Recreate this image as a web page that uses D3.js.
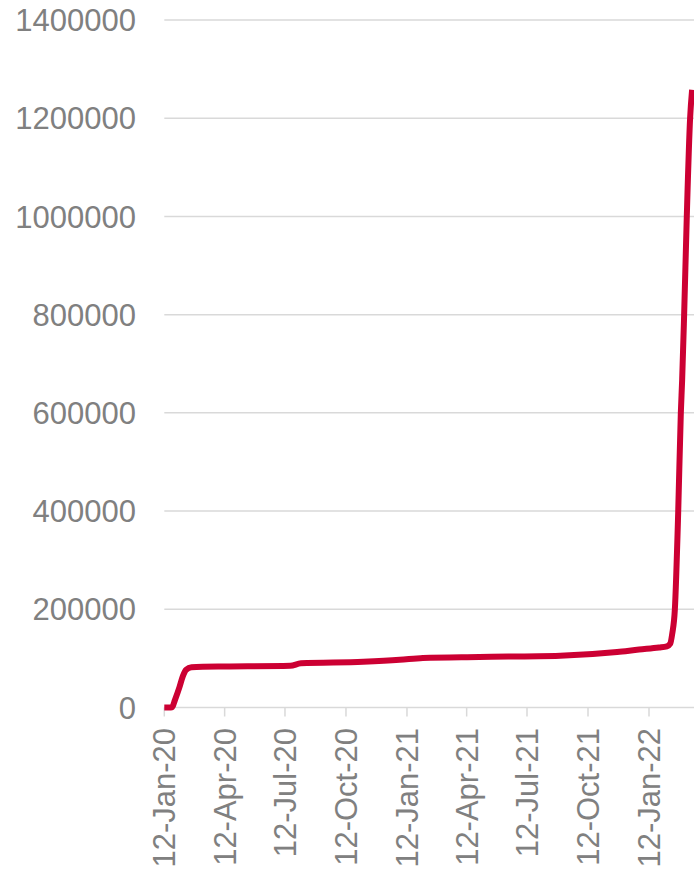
<!DOCTYPE html>
<html>
<head>
<meta charset="utf-8">
<script src="https://cdn.jsdelivr.net/npm/d3@7"></script>
<style>
  html, body { margin: 0; padding: 0; background: #ffffff; }
  svg { display: block; }
</style>
</head>
<body>
<svg id="chart" width="694" height="871"></svg>
<script>
// Cumulative confirmed cases
const dates = [
  "2020-01-12", "2020-01-22", "2020-01-24", "2020-01-28", "2020-02-04",
  "2020-02-09", "2020-02-14", "2020-02-22", "2020-03-10", "2020-04-20",
  "2020-07-20", "2020-08-05", "2020-11-07", "2021-01-01", "2021-02-05",
  "2021-05-01", "2021-08-31", "2021-11-25", "2021-12-28", "2022-01-27",
  "2022-02-08", "2022-02-13", "2022-02-16", "2022-02-20", "2022-02-25",
  "2022-03-01", "2022-03-03", "2022-03-06", "2022-03-10", "2022-03-15",
  "2022-03-18"
];
const cases = [
  0, 0, 1000, 15000, 42000,
  64000, 77000, 82000, 83000, 83500,
  84800, 90000, 93000, 97000, 101000,
  103000, 105500, 113000, 118000, 122000,
  124500, 130000, 150000, 200000, 396000,
  600000, 667000, 800000, 1000000, 1200000,
  1258000
];
const yTicks = [0, 200000, 400000, 600000, 800000, 1000000, 1200000, 1400000];
const xTicks = [
  "2020-01-12", "2020-04-12", "2020-07-12", "2020-10-12", "2021-01-12",
  "2021-04-12", "2021-07-12", "2021-10-12", "2022-01-12"
];

const parse = d3.utcParse("%Y-%m-%d");
const fmt = d3.utcFormat("%d-%b-%y");
const data = dates.map((d, i) => ({ date: parse(d), value: cases[i] }));

const svg = d3.select("#chart");
const W = 694;

// Axis extent: first tick to last tick, the line runs on past the last tick
const x = d3.scaleUtc()
  .domain([parse(xTicks[0]), parse(xTicks[xTicks.length - 1])])
  .range([164.3, 649]);
const y = d3.scaleLinear().domain([0, 1400000]).range([707.5, 20]);

const gridColor = "#d9d9d9";
const textColor = "#808080";
const font = "'Liberation Sans', Arial, sans-serif";

// Horizontal gridlines
svg.append("g")
  .selectAll("line")
  .data(yTicks)
  .join("line")
  .attr("x1", 164.3).attr("x2", W)
  .attr("y1", d => y(d)).attr("y2", d => y(d))
  .attr("stroke", gridColor)
  .attr("stroke-width", 1.5);

// Y labels
svg.append("g")
  .selectAll("text")
  .data(yTicks)
  .join("text")
  .attr("x", 136)
  .attr("y", d => y(d))
  .attr("dy", "0.36em")
  .attr("text-anchor", "end")
  .attr("font-family", font)
  .attr("font-size", 31)
  .attr("fill", textColor)
  .text(d => d);

// X axis tick marks and rotated labels
const xg = svg.append("g");
const xTickDates = xTicks.map(parse);
xg.selectAll("line")
  .data(xTickDates)
  .join("line")
  .attr("x1", d => x(d)).attr("x2", d => x(d))
  .attr("y1", y(0)).attr("y2", y(0) + 9)
  .attr("stroke", gridColor)
  .attr("stroke-width", 1.5);

xg.selectAll("text")
  .data(xTickDates)
  .join("text")
  .attr("transform", d => `translate(${x(d)},728) rotate(-90)`)
  .attr("dy", "0.36em")
  .attr("text-anchor", "end")
  .attr("font-family", font)
  .attr("font-size", 31)
  .attr("fill", textColor)
  .text(d => fmt(d));

// Series line
const line = d3.line()
  .x(d => x(d.date))
  .y(d => y(d.value))
  .curve(d3.curveMonotoneX);

svg.append("path")
  .datum(data)
  .attr("d", line)
  .attr("fill", "none")
  .attr("stroke", "#cc0033")
  .attr("stroke-width", 6)
  .attr("stroke-linejoin", "round");
</script>
</body>
</html>
